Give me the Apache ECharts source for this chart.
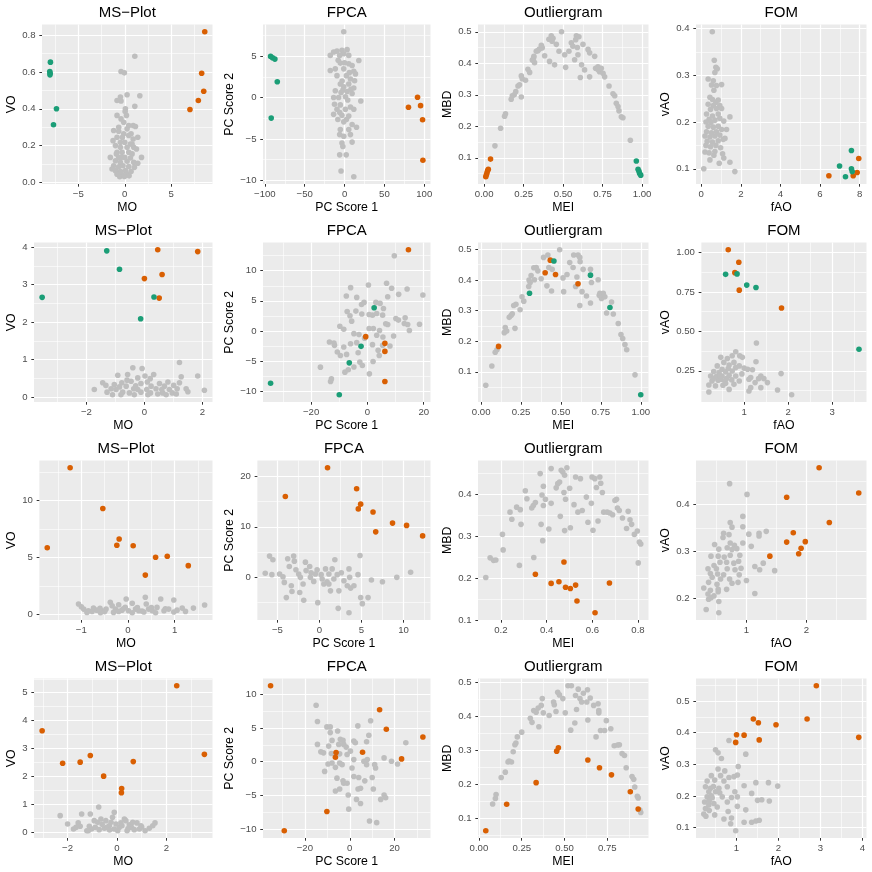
<!DOCTYPE html>
<html><head><meta charset="utf-8">
<script src="https://cdn.jsdelivr.net/npm/echarts@6.0.0/dist/echarts.min.js"></script>
<style>html,body{margin:0;padding:0;background:#fff}#c{width:872px;height:872px}</style>
</head><body><div id="c"></div>
<script>
// ---------- Row 1 ----------
const ms1Grey = [[1.08,0.685],[-0.4,0.602],[-0.04,0.595],[0.25,0.476],[1.62,0.471],[-0.47,0.464],[-0.83,0.445],[-0.4,0.442],[1.08,0.413],[0.07,0.4],[0.04,0.385],[-0.83,0.364],[0.18,0.364],[-0.4,0.345],[0.43,0.309],[0.9,0.309],[1.15,0.304],[-1.19,0.282],[-0.65,0.278],[0.25,0.291],[-0.11,0.264],[0.68,0.264],[-0.83,0.245],[-0.25,0.245],[0.43,0.255],[0.9,0.236],[-1.26,0.227],[-0.47,0.218],[0,0.218],[0.61,0.209],[-1.0,0.2],[-0.47,0.191],[0.25,0.191],[0.97,0.191],[1.26,0.182],[-0.83,0.164],[-0.29,0.164],[0.43,0.164],[0.79,0.155],[-1.55,0.136],[-0.65,0.136],[0,0.136],[0.61,0.133],[1.8,0.136],[-1.0,0.118],[-0.47,0.109],[0.25,0.115],[0.97,0.109],[1.4,0.104],[-1.19,0.091],[-0.65,0.085],[-0.18,0.091],[0.43,0.087],[1.04,0.082],[-1.0,0.064],[-0.47,0.06],[0.07,0.064],[0.68,0.06],[-0.83,0.045],[-0.29,0.042],[0.25,0.045],[-0.54,0.031],[-0.04,0.033],[0.47,0.036],[-1.37,0.073],[0.79,0.209],[-0.65,0.3],[-0.11,0.327],[1.4,0.245],[-0.4,0.136],[-0.9,0.155]];
const ms1Orange = [[7.01,0.396],[7.91,0.445],[8.49,0.495],[8.27,0.593],[8.6,0.818]];
const ms1Green = [[-7.99,0.653],[-8.06,0.602],[-8.02,0.593],[-8.04,0.584],[-7.34,0.4],[-7.66,0.313]];
const ms1XTicks = [-5,0,5];
const ms1YTicks = [0,0.2,0.4,0.6,0.8];

const fpca1Grey = [[-1,7.93],[-13.7,5.49],[-9.5,5.6],[-3.2,5.7],[3.2,5.77],[-1,5.28],[-17.9,5.08],[-6.1,5.08],[17.9,4.47],[5.3,5.08],[-5.3,4.15],[5.3,4.07],[9.5,3.86],[-17.9,3.25],[-11.6,3.46],[-1,3.46],[11.6,3.17],[13.7,2.85],[-9.5,2.64],[2.3,2.64],[7.4,2.24],[12.6,2.03],[-5.3,1.63],[5.3,1.63],[-1,1.3],[11.6,1.14],[-11.6,0.81],[-4.4,0.61],[3.2,0.73],[9.5,0.49],[-13.7,0],[-7.4,0],[1.1,0.08],[20.4,-0.41],[-12.6,-0.81],[-5.3,-0.89],[7.4,-1.14],[-9.5,-1.42],[1.1,-1.42],[11.6,-1.42],[-13.7,-2.03],[-3.2,-2.15],[5.3,-2.24],[-8.4,-2.64],[2.3,-2.64],[-1,-2.93],[9.5,-3.25],[15,-3.58],[-5.3,-3.86],[5.3,-3.86],[-6.1,-4.47],[-1,-4.67],[7.4,-4.47],[-3.2,-5.49],[9.5,-5.37],[-2.1,-5.9],[-6.1,-6.91],[2.1,-6.91],[-4.4,-8.86],[11.6,-9.55],[-8,4.5],[0,4.2],[-3,2.0],[4,-0.3],[-6,-1.8],[8,1.0],[-2,0.9],[6,3.0]];
const fpca1Orange = [[91.6,0.04],[80.2,-1.18],[95.4,-0.98],[97.9,-2.68],[98.3,-7.56]];
const fpca1Green = [[-92.8,4.96],[-90.3,4.8],[-87.4,4.63],[-84.4,1.91],[-92,-2.48]];
const fpca1XTicks = [-100,-50,0,50,100];
const fpca1YTicks = [-10,-5,0,5];

const out1Grey = [[0.068,0.138],[0.104,0.194],[0.129,0.232],[0.135,0.24],[0.171,0.286],[0.178,0.297],[0.214,0.328],[0.224,0.332],[0.235,0.36],[0.241,0.351],[0.235,0.293],[0.262,0.346],[0.277,0.381],[0.288,0.371],[0.313,0.417],[0.319,0.402],[0.315,0.422],[0.33,0.438],[0.362,0.457],[0.368,0.449],[0.383,0.424],[0.414,0.406],[0.41,0.476],[0.425,0.487],[0.436,0.479],[0.446,0.395],[0.457,0.46],[0.474,0.438],[0.49,0.5],[0.51,0.427],[0.516,0.387],[0.537,0.438],[0.552,0.465],[0.562,0.454],[0.573,0.411],[0.584,0.487],[0.6,0.484],[0.594,0.427],[0.609,0.355],[0.617,0.395],[0.626,0.46],[0.636,0.379],[0.658,0.444],[0.668,0.357],[0.668,0.433],[0.7,0.422],[0.706,0.384],[0.721,0.389],[0.731,0.373],[0.742,0.384],[0.753,0.368],[0.763,0.357],[0.791,0.328],[0.816,0.303],[0.827,0.297],[0.837,0.273],[0.848,0.263],[0.854,0.249],[0.869,0.23],[0.879,0.227],[0.926,0.156],[0.19,0.3],[0.305,0.41],[0.35,0.445],[0.43,0.47],[0.58,0.475],[0.72,0.38],[0.2,0.31],[0.34,0.44],[0.59,0.45]];
const out1Orange = [[0.01,0.04],[0.014,0.046],[0.018,0.053],[0.022,0.06],[0.026,0.064],[0.04,0.096]];
const out1Green = [[0.964,0.09],[0.975,0.064],[0.981,0.057],[0.985,0.05],[0.992,0.045]];
const out1XTicks = [0,0.25,0.5,0.75,1];
const out1YTicks = [0.1,0.2,0.3,0.4,0.5];

const fom1Grey = [[0.56,0.393],[0.66,0.332],[0.74,0.317],[0.81,0.314],[0.69,0.306],[0.35,0.292],[0.61,0.288],[0.52,0.279],[0.77,0.278],[1.03,0.28],[0.64,0.268],[0.44,0.253],[0.57,0.248],[0.86,0.247],[0.74,0.242],[0.35,0.238],[0.61,0.235],[0.94,0.235],[0.47,0.227],[0.77,0.229],[1.03,0.229],[0.27,0.217],[0.57,0.213],[0.86,0.217],[1.45,0.211],[0.4,0.206],[0.69,0.204],[0.94,0.208],[0.24,0.2],[0.49,0.199],[1.14,0.202],[0.35,0.191],[0.61,0.189],[0.86,0.191],[1.03,0.184],[1.28,0.184],[0.27,0.179],[0.52,0.177],[0.77,0.179],[0.19,0.17],[0.44,0.168],[0.69,0.17],[0.94,0.172],[0.3,0.159],[0.57,0.157],[0.86,0.16],[1.2,0.165],[1.11,0.163],[0.24,0.15],[0.47,0.147],[0.74,0.15],[0.98,0.145],[0.19,0.136],[0.4,0.134],[0.69,0.137],[1.08,0.132],[0.64,0.129],[0.44,0.119],[1.14,0.123],[0.91,0.112],[1.45,0.114],[0.13,0.1],[1.7,0.094]];
const fom1Orange = [[6.45,0.085],[7.68,0.085],[7.88,0.092],[7.96,0.122]];
const fom1Green = [[6.99,0.106],[7.29,0.083],[7.59,0.139],[7.59,0.1],[7.63,0.094]];
const fom1XTicks = [0,2,4,6,8];
const fom1YTicks = [0.1,0.2,0.3,0.4];

// ---------- Row 2 ----------
const ms2Grey = [[1.21,0.92],[-0.4,0.78],[-0.08,0.76],[-0.92,0.58],[-0.58,0.6],[0.32,0.6],[1.84,0.56],[1.27,0.54],[-0.23,0.51],[0.02,0.56],[0.2,0.49],[-1.44,0.38],[-0.78,0.38],[-0.46,0.42],[0.81,0.4],[-1.33,0.31],[-1.04,0.33],[-0.12,0.36],[0.52,0.36],[1.21,0.38],[-0.86,0.27],[-0.63,0.29],[0.23,0.29],[0.69,0.29],[1.01,0.31],[-1.73,0.2],[-1.15,0.22],[-0.98,0.2],[-0.37,0.22],[-0.23,0.2],[0.08,0.2],[0.4,0.22],[0.86,0.2],[1.13,0.22],[1.44,0.22],[2.07,0.18],[-1.29,0.13],[-0.75,0.13],[-0.52,0.11],[-0.12,0.13],[0.21,0.11],[0.63,0.11],[0.96,0.11],[1.5,0.14],[-1.1,0.06],[-0.81,0.06],[-0.35,0.06],[0.12,0.06],[0.46,0.08],[1.1,0.08],[0.75,0.06],[-0.6,0.45],[0.1,0.4],[0.6,0.2],[-0.3,0.3]];
const ms2Orange = [[0.46,3.93],[1.84,3.88],[0,3.16],[0.61,3.27],[0.51,2.64]];
const ms2Green = [[-3.53,2.66],[-1.3,3.9],[-0.86,3.41],[0.33,2.67],[-0.13,2.09]];
const ms2XTicks = [-2,0,2];
const ms2YTicks = [0,1,2,3,4];

const fpca2Grey = [[9.55,12.48],[-5.97,7.19],[0.36,7.63],[6.8,7.91],[8.6,7.08],[14.1,6.96],[19.7,5.96],[11.1,6.07],[-7.5,5.8],[-3.8,5.57],[3,4.74],[4.5,4.57],[7.2,5.68],[-2.1,4.4],[-1.2,4.74],[-7.2,3.23],[-4.1,3.29],[5.7,3.73],[0.6,2.73],[1.8,2.62],[3.3,2.9],[5.4,2.62],[-6.2,2.51],[-5.6,1.62],[13.4,2.17],[10.1,2.06],[-9.8,0.78],[13.1,1.23],[14.3,1.06],[18.5,1.11],[7.2,1.06],[0.6,0.39],[2.1,0.39],[4.3,0.06],[14.9,0.06],[-8.4,0.28],[-4.8,-0.45],[-3,-0.61],[3.3,-0.72],[9.3,-0.84],[-13.5,-1.84],[-11.7,-2.4],[-8.4,-2.67],[-10.7,-3.5],[-6,-2.12],[-3.8,-1.95],[1.8,-2.28],[5.4,-2.4],[3.8,-3.23],[-9.6,-4.07],[-7.4,-3.9],[-3.3,-3.62],[4.2,-4.07],[2.0,-5.07],[-2.7,-5.18],[-1.8,-5.74],[-4.8,-6.0],[-8,-6.85],[-6.8,-6.46],[-16.7,-6.02],[-12.8,-7.97],[-13.1,-8.4],[0.7,-7.13],[-11.9,-2.0],[5.5,-1.0],[8,-2.5],[-1,-1.2],[11,1.8],[6.5,1.2],[-2,2.8]];
const fpca2Orange = [[14.57,13.48],[-0.6,-0.95],[6.2,-2.06],[6.2,-3.4],[6.2,-8.4]];
const fpca2Green = [[-34.4,-8.7],[-10.0,-10.6],[2.39,3.84],[-2.27,-2.56],[-6.45,-5.3]];
const fpca2XTicks = [-20,0,20];
const fpca2YTicks = [-10,-5,0,5,10];

const out2Grey = [[0.029,0.056],[0.067,0.119],[0.088,0.164],[0.099,0.172],[0.145,0.228],[0.151,0.245],[0.16,0.233],[0.212,0.242],[0.176,0.278],[0.187,0.284],[0.218,0.321],[0.204,0.317],[0.244,0.303],[0.256,0.345],[0.267,0.331],[0.298,0.379],[0.307,0.392],[0.313,0.415],[0.334,0.401],[0.345,0.441],[0.355,0.43],[0.376,0.404],[0.391,0.474],[0.418,0.482],[0.412,0.381],[0.424,0.441],[0.445,0.435],[0.441,0.364],[0.492,0.499],[0.513,0.407],[0.517,0.362],[0.538,0.418],[0.555,0.457],[0.58,0.482],[0.607,0.482],[0.618,0.474],[0.576,0.441],[0.592,0.379],[0.618,0.317],[0.632,0.362],[0.66,0.348],[0.639,0.435],[0.685,0.435],[0.691,0.392],[0.685,0.325],[0.733,0.401],[0.744,0.357],[0.754,0.34],[0.765,0.357],[0.775,0.345],[0.786,0.292],[0.817,0.328],[0.828,0.289],[0.859,0.258],[0.876,0.222],[0.887,0.209],[0.901,0.189],[0.912,0.172],[0.964,0.09],[0.195,0.29],[0.3,0.4],[0.62,0.46],[0.74,0.35],[0.33,0.44],[0.6,0.41]];
const out2Orange = [[0.109,0.183],[0.401,0.424],[0.433,0.465],[0.466,0.418],[0.607,0.388]];
const out2Green = [[0.303,0.357],[0.456,0.462],[0.685,0.416],[0.807,0.31],[1.0,0.025]];
const out2XTicks = [0,0.25,0.5,0.75,1];
const out2YTicks = [0.1,0.2,0.3,0.4,0.5];

const fom2Grey = [[1.28,0.426],[0.81,0.371],[0.47,0.335],[0.62,0.328],[0.73,0.345],[0.9,0.345],[0.96,0.335],[1.27,0.307],[0.54,0.303],[0.77,0.303],[0.66,0.286],[0.39,0.281],[0.89,0.281],[0.5,0.26],[0.64,0.264],[0.81,0.27],[1.0,0.267],[0.31,0.245],[0.43,0.239],[0.58,0.243],[0.73,0.249],[1.08,0.26],[1.19,0.256],[1.84,0.232],[0.24,0.217],[0.37,0.213],[0.5,0.217],[0.66,0.222],[0.81,0.217],[1.15,0.207],[1.33,0.2],[1.38,0.217],[0.27,0.185],[0.41,0.19],[0.56,0.185],[0.72,0.192],[0.89,0.185],[1.11,0.196],[1.25,0.175],[1.53,0.175],[0.2,0.16],[0.35,0.154],[0.52,0.158],[0.77,0.164],[1.15,0.143],[1.38,0.143],[0.66,0.132],[1.11,0.122],[1.76,0.128],[0.2,0.115],[2.08,0.098],[0.47,0.196],[0.58,0.171],[0.45,0.22],[0.6,0.2],[0.95,0.23],[0.3,0.2],[1.45,0.2]];
const fom2Orange = [[0.64,1.017],[0.88,0.938],[0.79,0.872],[0.89,0.761],[1.85,0.648]];
const fom2Green = [[0.58,0.861],[0.84,0.864],[1.06,0.793],[1.27,0.778],[3.61,0.386]];
const fom2XTicks = [1,2,3];
const fom2YTicks = [0.25,0.5,0.75,1];

// ---------- Row 3 ----------
const ms3Grey = [[-1.06,0.92],[-1.0,0.68],[-0.95,0.47],[-0.85,0.33],[-0.74,0.56],[-0.67,0.38],[-0.56,0.33],[-0.47,0.47],[-0.38,1.07],[-0.34,0.77],[-0.27,0.47],[-0.2,0.86],[-0.13,0.38],[-0.04,1.36],[-0.06,0.62],[0.01,0.33],[0.09,0.98],[0.16,0.47],[0.23,0.33],[0.37,1.51],[0.39,0.92],[0.44,0.47],[0.52,0.33],[0.62,0.62],[0.7,1.36],[0.77,0.33],[0.87,0.47],[0.98,1.27],[1.05,0.38],[1.16,0.56],[1.23,0.27],[1.4,0.56],[1.64,0.83],[-0.88,0.18],[-0.59,0.15],[-0.31,0.18],[0.09,0.15],[0.34,0.21],[0.59,0.15],[0.98,0.21],[-0.77,0.27],[-0.2,0.27],[-0.5,0.25],[0.2,0.6],[0.5,0.6],[-0.1,0.5],[0.3,0.3],[0.8,0.5],[-0.6,0.55]];
const ms3Orange = [[-1.24,12.9],[-0.54,9.32],[-1.73,5.86],[-0.19,6.63],[-0.24,6.09],[0.11,6.04],[0.59,5.03],[0.84,5.12],[0.37,3.46],[1.29,4.29]];
const ms3XTicks = [-1,0,1];
const ms3YTicks = [0,5,10];

const fpca3Grey = [[-6.45,0.8],[-5.94,4.2],[-5.54,3.47],[-5.66,0.53],[-4.74,0.67],[-4.34,0.13],[-4.18,-1.0],[-3.78,3.67],[-3.07,4.2],[-2.99,3.2],[-3.59,2.13],[-3.35,-1.67],[-3.27,-2.8],[-3.94,-4.0],[-2.47,0.67],[-2.27,0],[-1.95,-1.33],[-2.35,-3.0],[-1.87,-4.53],[-1.67,3.0],[-1.16,2.13],[-1.59,1.33],[-1.08,0],[-0.68,-0.8],[-0.48,0.67],[-0.28,1.47],[0.2,0.53],[0.32,-0.33],[-0.2,-5.0],[0.72,1.67],[1.12,-1.33],[1.31,-2.67],[1.51,1.67],[1.83,3.47],[2.11,0.53],[2.31,-2.67],[2.23,-6.13],[2.91,-0.67],[3.51,1.67],[3.59,0],[3.31,-1.67],[3.71,-2.13],[4.1,-1.67],[3.51,-7.0],[4.58,0.53],[4.82,4.33],[4.9,-4.0],[5.1,-5.2],[6.18,-0.53],[5.78,-4.0],[7.49,-0.87],[9.2,0],[10.84,1.0],[1.71,-0.33],[1.12,0.67],[0.52,-1.33],[-1.0,0.9],[0.9,-0.9],[2.6,0.9],[-2.8,1.5]];
const fpca3Orange = [[0.96,21.67],[-4.06,16],[4.42,17.53],[4.9,14.47],[4.62,13.53],[6.37,12.93],[6.69,9.0],[8.69,10.73],[10.36,10.27],[12.27,8.2]];
const fpca3XTicks = [-5,0,5,10];
const fpca3YTicks = [0,10,20];

const out3Grey = [[0.134,0.201],[0.153,0.248],[0.168,0.242],[0.178,0.243],[0.207,0.304],[0.21,0.267],[0.24,0.357],[0.248,0.34],[0.269,0.369],[0.285,0.363],[0.288,0.328],[0.281,0.23],[0.307,0.408],[0.314,0.389],[0.335,0.367],[0.342,0.373],[0.351,0.38],[0.344,0.249],[0.372,0.449],[0.376,0.328],[0.38,0.398],[0.386,0.419],[0.386,0.373],[0.395,0.388],[0.383,0.289],[0.41,0.317],[0.42,0.378],[0.42,0.461],[0.442,0.415],[0.449,0.425],[0.457,0.429],[0.46,0.347],[0.464,0.457],[0.471,0.453],[0.479,0.445],[0.476,0.404],[0.483,0.388],[0.479,0.313],[0.489,0.463],[0.501,0.414],[0.504,0.32],[0.52,0.375],[0.527,0.441],[0.548,0.437],[0.537,0.357],[0.556,0.361],[0.574,0.393],[0.581,0.333],[0.596,0.378],[0.603,0.314],[0.599,0.441],[0.611,0.437],[0.618,0.416],[0.625,0.336],[0.633,0.441],[0.637,0.426],[0.644,0.404],[0.65,0.357],[0.665,0.357],[0.677,0.355],[0.689,0.351],[0.699,0.385],[0.706,0.388],[0.71,0.367],[0.718,0.361],[0.732,0.343],[0.75,0.318],[0.757,0.359],[0.765,0.339],[0.772,0.328],[0.784,0.304],[0.797,0.312],[0.806,0.286],[0.812,0.281],[0.801,0.236]];
const out3Orange = [[0.351,0.209],[0.42,0.187],[0.454,0.191],[0.476,0.238],[0.483,0.178],[0.504,0.175],[0.527,0.183],[0.533,0.145],[0.612,0.117],[0.675,0.188]];
const out3XTicks = [0.2,0.4,0.6,0.8];
const out3YTicks = [0.1,0.2,0.3,0.4];

const fom3Grey = [[0.72,0.445],[1.01,0.422],[0.94,0.375],[0.94,0.353],[0.73,0.362],[0.76,0.352],[1.33,0.343],[1.21,0.339],[1.21,0.333],[0.62,0.339],[0.71,0.336],[1.04,0.337],[1.08,0.311],[0.47,0.315],[0.61,0.33],[0.73,0.318],[0.8,0.313],[0.84,0.306],[0.94,0.318],[0.54,0.305],[0.68,0.308],[0.76,0.304],[0.89,0.292],[0.87,0.279],[0.41,0.29],[0.53,0.29],[0.63,0.288],[0.73,0.292],[0.56,0.277],[0.67,0.277],[0.79,0.275],[0.46,0.27],[0.36,0.263],[0.5,0.263],[1.14,0.268],[1.28,0.275],[0.68,0.263],[0.81,0.261],[0.91,0.264],[1.22,0.261],[1.47,0.259],[0.4,0.253],[0.52,0.252],[0.62,0.25],[0.88,0.25],[0.43,0.245],[0.57,0.241],[0.72,0.241],[0.37,0.234],[0.51,0.23],[0.76,0.232],[0.86,0.234],[1.0,0.238],[0.29,0.222],[0.4,0.217],[0.53,0.219],[0.67,0.219],[1.14,0.21],[0.36,0.209],[0.46,0.205],[0.37,0.198],[0.41,0.201],[0.53,0.214],[0.54,0.193],[0.33,0.176],[0.54,0.169]];
const fom3Orange = [[2.21,0.479],[2.87,0.425],[1.67,0.416],[2.38,0.362],[1.78,0.34],[1.67,0.32],[1.98,0.321],[1.91,0.307],[1.87,0.295],[1.39,0.29]];
const fom3XTicks = [1,2];
const fom3YTicks = [0.2,0.3,0.4];

// ---------- Row 4 ----------
const ms4Grey = [[-2.3,0.61],[-2.0,0.31],[-1.76,0.13],[-1.66,0.19],[-1.57,0.35],[-1.43,0.67],[-1.49,0.23],[-1.08,0.67],[-1.12,0.23],[-1.22,0.07],[-0.74,0.92],[-0.92,0.43],[-0.78,0.37],[-0.65,0.49],[-0.45,0.43],[-0.31,0.25],[-0.11,0.73],[-0.18,0.55],[-0.24,0.37],[-0.04,0.31],[-1.03,0.13],[-0.72,0.11],[-0.51,0.16],[0.09,0.19],[0.3,0.49],[0.36,0.43],[0.5,0.28],[0.59,0.19],[0.81,0.35],[0.97,0.25],[1.14,0.07],[1.31,0.16],[1.45,0.25],[1.54,0.35],[-1.16,0.07],[0.03,0.07],[0.41,0.07],[0.7,0.11],[0.91,0.13],[0.16,0.35],[-0.41,0.19],[-0.11,0.13],[-0.88,0.19],[0.64,0.37],[-0.6,0.3],[0.2,0.25],[1.0,0.2],[-0.3,0.1],[0.45,0.15]];
const ms4Orange = [[-3.03,3.64],[-2.2,2.48],[-1.49,2.52],[-1.08,2.76],[-0.54,2.02],[0.66,2.54],[0.19,1.58],[0.18,1.43],[2.42,5.25],[3.54,2.8]];
const ms4XTicks = [-2,0,2];
const ms4YTicks = [0,1,2,3,4,5];

const fpca4Grey = [[-15,8.35],[-14.4,5.95],[-14.4,2.55],[-12.9,1.45],[-11.7,1.3],[-11.2,-1.45],[-10.2,5.15],[-8.7,5.15],[-8.7,4.3],[-9.4,2.3],[-7.9,3.15],[-8.2,1.2],[-9.7,-0.35],[-7.9,-0.2],[-6.4,-0.85],[-5.4,4.55],[-4.2,3.3],[-3.0,3.15],[-4.9,2.55],[-2.7,2.55],[-1.6,2.15],[-4.5,1.15],[-1.2,1.05],[-4.5,-0.2],[-3.4,-0.45],[-6.4,-4.35],[-4.5,-4.05],[-5.7,-2.45],[-3.0,-2.85],[-2.7,-3.2],[-1.2,-3.2],[-0.7,-4.95],[-0.45,-7.05],[0.3,1.55],[1.8,0.3],[1.0,-0.95],[1.8,3.05],[2.5,2.8],[3.6,5.3],[1.8,-2.2],[4,-2.35],[3,-5.6],[3.7,-4.05],[4.8,-3.95],[4.8,-6.2],[6.3,0.05],[7.5,-0.45],[7.8,0.3],[6.7,-2.85],[7.5,2.95],[8.5,3.9],[9.3,6.05],[10,-2.35],[10.5,-4.05],[11.1,-0.45],[11.5,-0.95],[8.8,-8.8],[12,-9.05],[13.8,-5.6],[15.3,-4.95],[16,-5.35],[15.3,0.55],[18.6,0.05],[21.3,-0.35],[25,2.8]];
const fpca4Orange = [[-35.3,11.25],[-29.2,-10.25],[-10.2,-7.4],[-6.1,1.35],[-6.4,0.65],[5.7,1.4],[13.3,7.7],[16.3,4.8],[23.1,0.4],[32.6,3.65]];
const fpca4XTicks = [-20,0,20];
const fpca4YTicks = [-10,-5,0,5,10];

const out4Grey = [[0.08,0.141],[0.096,0.157],[0.1,0.169],[0.13,0.219],[0.154,0.235],[0.17,0.265],[0.176,0.268],[0.19,0.265],[0.2,0.295],[0.21,0.316],[0.216,0.321],[0.224,0.339],[0.25,0.353],[0.3,0.394],[0.31,0.382],[0.32,0.417],[0.334,0.412],[0.346,0.424],[0.35,0.369],[0.364,0.432],[0.37,0.452],[0.376,0.41],[0.41,0.402],[0.436,0.442],[0.44,0.434],[0.45,0.414],[0.46,0.471],[0.47,0.463],[0.49,0.452],[0.504,0.41],[0.52,0.49],[0.54,0.49],[0.536,0.359],[0.56,0.38],[0.564,0.461],[0.58,0.48],[0.59,0.452],[0.61,0.468],[0.634,0.478],[0.63,0.442],[0.636,0.389],[0.65,0.454],[0.67,0.432],[0.684,0.339],[0.696,0.437],[0.7,0.41],[0.7,0.417],[0.71,0.358],[0.734,0.358],[0.744,0.387],[0.77,0.363],[0.79,0.313],[0.81,0.315],[0.82,0.316],[0.836,0.29],[0.85,0.284],[0.86,0.248],[0.894,0.222],[0.904,0.214],[0.91,0.191],[0.925,0.164],[0.93,0.159],[0.94,0.123],[0.945,0.116],[0.57,0.42],[0.6,0.442]];
const out4Orange = [[0.04,0.062],[0.162,0.14],[0.334,0.204],[0.454,0.297],[0.464,0.307],[0.636,0.271],[0.704,0.248],[0.774,0.227],[0.884,0.177],[0.93,0.126]];
const out4XTicks = [0,0.25,0.5,0.75];
const out4YTicks = [0.1,0.2,0.3,0.4,0.5];

const fom4Grey = [[0.82,0.375],[0.5,0.346],[0.56,0.336],[0.64,0.318],[1.22,0.332],[1.04,0.293],[0.72,0.279],[0.56,0.285],[0.4,0.264],[0.62,0.264],[0.82,0.258],[0.94,0.261],[1.02,0.266],[0.3,0.247],[0.48,0.25],[0.7,0.247],[1.46,0.242],[1.76,0.242],[1.98,0.231],[0.26,0.229],[0.38,0.224],[0.58,0.224],[0.78,0.229],[0.96,0.213],[0.34,0.213],[0.5,0.213],[1.18,0.232],[1.36,0.208],[0.3,0.197],[0.42,0.194],[0.66,0.197],[0.88,0.195],[1.02,0.197],[1.5,0.186],[1.6,0.188],[1.78,0.184],[0.24,0.181],[0.46,0.176],[0.78,0.181],[0.54,0.165],[1.02,0.167],[1.22,0.156],[0.26,0.16],[0.35,0.154],[0.8,0.151],[0.22,0.143],[0.27,0.136],[0.48,0.14],[0.7,0.127],[0.88,0.13],[1.18,0.117],[1.36,0.117],[1.46,0.121],[1.54,0.123],[0.86,0.112],[0.98,0.09],[0.34,0.171],[0.4,0.2],[0.6,0.21],[0.45,0.23],[0.35,0.185]];
const fom4Orange = [[2.9,0.548],[2.68,0.443],[1.4,0.443],[1.52,0.431],[1.94,0.425],[1.0,0.393],[1.18,0.392],[0.98,0.369],[1.54,0.377],[3.91,0.385]];
const fom4XTicks = [1,2,3,4];
const fom4YTicks = [0.1,0.2,0.3,0.4,0.5];

// ---------- panel list ----------
const panels = [
  {title:'MS\u2212Plot', xName:'MO', yName:'VO', grey:ms1Grey, orange:ms1Orange, green:ms1Green, xt:ms1XTicks, yt:ms1YTicks, xd:0, yd:1},
  {title:'FPCA', xName:'PC Score 1', yName:'PC Score 2', grey:fpca1Grey, orange:fpca1Orange, green:fpca1Green, xt:fpca1XTicks, yt:fpca1YTicks, xd:0, yd:0},
  {title:'Outliergram', xName:'MEI', yName:'MBD', grey:out1Grey, orange:out1Orange, green:out1Green, xt:out1XTicks, yt:out1YTicks, xd:2, yd:1},
  {title:'FOM', xName:'fAO', yName:'vAO', grey:fom1Grey, orange:fom1Orange, green:fom1Green, xt:fom1XTicks, yt:fom1YTicks, xd:0, yd:1},
  {title:'MS\u2212Plot', xName:'MO', yName:'VO', grey:ms2Grey, orange:ms2Orange, green:ms2Green, xt:ms2XTicks, yt:ms2YTicks, xd:0, yd:0},
  {title:'FPCA', xName:'PC Score 1', yName:'PC Score 2', grey:fpca2Grey, orange:fpca2Orange, green:fpca2Green, xt:fpca2XTicks, yt:fpca2YTicks, xd:0, yd:0},
  {title:'Outliergram', xName:'MEI', yName:'MBD', grey:out2Grey, orange:out2Orange, green:out2Green, xt:out2XTicks, yt:out2YTicks, xd:2, yd:1},
  {title:'FOM', xName:'fAO', yName:'vAO', grey:fom2Grey, orange:fom2Orange, green:fom2Green, xt:fom2XTicks, yt:fom2YTicks, xd:0, yd:2},
  {title:'MS\u2212Plot', xName:'MO', yName:'VO', grey:ms3Grey, orange:ms3Orange, green:[], xt:ms3XTicks, yt:ms3YTicks, xd:0, yd:0},
  {title:'FPCA', xName:'PC Score 1', yName:'PC Score 2', grey:fpca3Grey, orange:fpca3Orange, green:[], xt:fpca3XTicks, yt:fpca3YTicks, xd:0, yd:0},
  {title:'Outliergram', xName:'MEI', yName:'MBD', grey:out3Grey, orange:out3Orange, green:[], xt:out3XTicks, yt:out3YTicks, xd:1, yd:1},
  {title:'FOM', xName:'fAO', yName:'vAO', grey:fom3Grey, orange:fom3Orange, green:[], xt:fom3XTicks, yt:fom3YTicks, xd:0, yd:1},
  {title:'MS\u2212Plot', xName:'MO', yName:'VO', grey:ms4Grey, orange:ms4Orange, green:[], xt:ms4XTicks, yt:ms4YTicks, xd:0, yd:0},
  {title:'FPCA', xName:'PC Score 1', yName:'PC Score 2', grey:fpca4Grey, orange:fpca4Orange, green:[], xt:fpca4XTicks, yt:fpca4YTicks, xd:0, yd:0},
  {title:'Outliergram', xName:'MEI', yName:'MBD', grey:out4Grey, orange:out4Orange, green:[], xt:out4XTicks, yt:out4YTicks, xd:2, yd:1},
  {title:'FOM', xName:'fAO', yName:'vAO', grey:fom4Grey, orange:fom4Orange, green:[], xt:fom4XTicks, yt:fom4YTicks, xd:0, yd:1}
];

const FONT = 'Liberation Sans';
const GREY = '#BEBEBE', ORANGE = '#D95F02', GREEN = '#1B9E77';
const TICK_FS = 9.6, NAME_FS = 12.3, TITLE_FS = 15;
const ctx = document.createElement('canvas').getContext('2d');
ctx.font = TICK_FS + 'px "' + FONT + '"';
function fmt(v, d) { return v.toFixed(d).replace('-', '\u2212'); }
function minors(t, lo, hi) {
  const st = t[1] - t[0], out = [];
  for (let k = -1; k < t.length; k++) { const m = t[0] + st * (k + 0.5); if (m >= lo && m <= hi) out.push(m); }
  return out;
}
const grids = [], xAxes = [], yAxes = [], series = [], graphics = [];
panels.forEach((p, i) => {
  const r = Math.floor(i / 4), c = i % 4, cl = c * 218, ct = r * 218;
  const all = p.grey.concat(p.orange, p.green);
  const xs = all.map(d => d[0]), ys = all.map(d => d[1]);
  const x0 = Math.min(...xs), x1 = Math.max(...xs), y0 = Math.min(...ys), y1 = Math.max(...ys);
  const xlo = x0 - 0.05 * (x1 - x0), xhi = x1 + 0.05 * (x1 - x0);
  const ylo = y0 - 0.05 * (y1 - y0), yhi = y1 + 0.05 * (y1 - y0);
  const ylabs = p.yt.filter(v => v >= ylo && v <= yhi).map(v => fmt(v, p.yd));
  const lw = Math.max(...ylabs.map(s => ctx.measureText(s).width));
  const left = cl + 28.7 + lw, right = cl + 212.5, top = ct + 24.5, bottom = ct + 184;
  grids.push({left: left, top: top, width: right - left, height: bottom - top, show: true,
    backgroundColor: '#EBEBEB', borderWidth: 0, containLabel: false, outerBoundsMode: 'none'});
  const common = {type: 'value', gridIndex: i, axisLine: {show: false, onZero: false}};
  xAxes.push(Object.assign({}, common, {min: xlo, max: xhi, position: 'bottom',
    name: p.xName, nameLocation: 'middle', nameGap: 17.3,
    nameTextStyle: {fontSize: NAME_FS, color: '#000', fontFamily: FONT},
    axisTick: {show: true, length: 2.7, customValues: p.xt, lineStyle: {color: '#333333', width: 1}},
    axisLabel: {customValues: p.xt, formatter: v => fmt(v, p.xd), color: '#4D4D4D', fontSize: TICK_FS, fontFamily: FONT, margin: 5},
    splitLine: {show: true, lineStyle: {color: '#FFFFFF', width: 1.2}}}));
  xAxes.push(Object.assign({}, common, {min: xlo, max: xhi, position: 'top',
    axisTick: {show: false, customValues: minors(p.xt, xlo, xhi)}, axisLabel: {show: false},
    splitLine: {show: true, lineStyle: {color: '#FFFFFF', width: 0.6}}}));
  yAxes.push(Object.assign({}, common, {min: ylo, max: yhi, position: 'left',
    name: p.yName, nameLocation: 'middle', nameGap: (left - cl) - 11.8 - 6.2,
    nameTextStyle: {fontSize: NAME_FS, color: '#000', fontFamily: FONT},
    axisTick: {show: true, length: 2.7, customValues: p.yt, lineStyle: {color: '#333333', width: 1}},
    axisLabel: {customValues: p.yt, formatter: v => fmt(v, p.yd), color: '#4D4D4D', fontSize: TICK_FS, fontFamily: FONT, margin: 6.5},
    splitLine: {show: true, lineStyle: {color: '#FFFFFF', width: 1.2}}}));
  yAxes.push(Object.assign({}, common, {min: ylo, max: yhi, position: 'right',
    axisTick: {show: false, customValues: minors(p.yt, ylo, yhi)}, axisLabel: {show: false},
    splitLine: {show: true, lineStyle: {color: '#FFFFFF', width: 0.6}}}));
  [[p.grey, GREY], [p.orange, ORANGE], [p.green, GREEN]].forEach(([d, col]) => {
    if (!d.length) return;
    series.push({type: 'scatter', xAxisIndex: 2 * i, yAxisIndex: 2 * i, data: d, symbolSize: 5.6,
      itemStyle: {color: col, opacity: 1, borderWidth: 0}, silent: true, emphasis: {disabled: true}});
  });
  graphics.push({type: 'text', x: (left + right) / 2, y: ct + 12.7, silent: true,
    style: {text: p.title, fontSize: TITLE_FS, fontFamily: FONT, fill: '#000', align: 'center', verticalAlign: 'middle'}});
});
const chart = echarts.init(document.getElementById('c'), null, {renderer: 'canvas'});
chart.setOption({animation: false, backgroundColor: '#FFFFFF', grid: grids, xAxis: xAxes, yAxis: yAxes, series: series, graphic: graphics});
</script>
</body></html>
